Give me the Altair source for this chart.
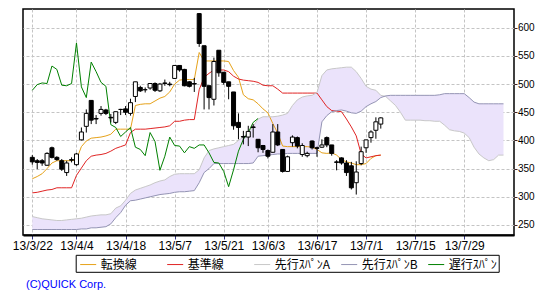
import altair as alt
import pandas as pd

# ---- data ----
tick_idx = [0, 9, 19, 29, 39, 48, 58, 68, 78, 88]
tick_labels = ["13/3/22", "13/4/4", "13/4/18", "13/5/7", "13/5/21",
               "13/6/3", "13/6/17", "13/7/1", "13/7/15", "13/7/29"]
y_ticks = [250, 300, 350, 400, 450, 500, 550, 600]

opens = [370, 364, 364, 356, 387, 370, 364, 343, 366, 357,
         401, 425, 471, 439, 448, 454, 441, 432, 455, 456,
         448, 478, 494, 490, 493, 501, 488, 502, 500, 510,
         533, 526, 504, 501, 625, 568, 497, 473, 560, 521,
         504, 486, 432, 407, 406, 424, 402, 391, 382, 379,
         415, 384, 345, 396, 405, 375, 373, 399, 387, 388,
         405, 392, 362, 369, 360, 355, 325, 359, 387, 405,
         418, 429]
highs = [374, 367, 367, 379, 389, 372, 367, 364, 370, 378,
         423, 455, 471, 445, 461, 456, 447, 451, 456, 461,
         474, 504, 497, 494, 501, 503, 502, 508, 504, 533,
         533, 527, 505, 511, 626, 568, 498, 547, 560, 521,
         504, 486, 448, 417, 426, 429, 402, 392, 384, 429,
         429, 384, 373, 409, 407, 395, 380, 400, 389, 402,
         407, 392, 365, 370, 365, 362, 363, 389, 401, 418,
         441, 441]
lows = [357, 349, 355, 355, 368, 364, 346, 337, 361, 355,
        400, 414, 429, 429, 444, 445, 432, 429, 445, 445,
        444, 468, 486, 485, 490, 486, 486, 497, 496, 509,
        522, 496, 494, 486, 566, 455, 455, 462, 513, 499,
        473, 419, 402, 393, 390, 405, 379, 378, 368, 378,
        390, 343, 344, 389, 386, 371, 370, 384, 371, 387,
        388, 373, 347, 357, 337, 313, 304, 356, 378, 396,
        403, 421]
closes = [362, 361, 360, 377, 370, 366, 349, 360, 365, 376,
          415, 448, 436, 438, 455, 448, 440, 451, 455, 450,
          467, 504, 488, 490, 501, 489, 500, 501, 499, 533,
          525, 497, 496, 500, 572, 496, 476, 540, 520, 503,
          496, 426, 423, 406, 416, 423, 387, 384, 372, 415,
          392, 345, 371, 406, 390, 391, 377, 387, 386, 392,
          392, 377, 361, 360, 343, 316, 344, 380, 401, 415,
          433, 440]

tenkan = [332, 336, 341, 350, 360, 364, 364, 364, 364, 366,
          389, 399, 404, 405, 406, 408, 411, 420, 420, 420,
          420, 462, 464, 465, 465, 470, 475, 478, 486, 500,
          507, 508, 508, 508, 556, 541, 541, 541, 541, 541,
          540, 524, 512, 481, 474, 472, 465, 456, 449, 430,
          413, 390, 389, 389, 389, 389, 389, 388, 384, 378,
          377, 378, 374, 366, 362, 360, 357, 357, 359, 368,
          373, 374]
kijun = [307, 308, 310, 312, 313, 316, 316, 316, 316, 338,
         351, 364, 372, 374, 375, 377, 381, 386, 389, 392,
         414, 420, 420, 420, 421, 422, 423, 424, 426, 434,
         434, 436, 437, 437, 490, 512, 519, 525, 525, 525,
         522, 514, 509, 507, 506, 505, 503, 498, 497, 497,
         491, 484, 484, 484, 484, 484, 484, 484, 484, 472,
         460, 453, 452, 451, 438, 424, 408, 376, 369, 371,
         373, 374]
span_a = [265, 263, 261, 260, 259, 258, 258, 259, 260, 261,
          262, 264, 266, 267, 268, 268, 270, 280, 284, 294,
          306, 312, 315, 318, 321, 325, 328, 330, 336, 340,
          341, 341, 341, 341, 348, 369, 382, 385, 387, 389,
          391, 393, 400, 406, 414, 425, 438, 442, 442, 442,
          443, 445, 448, 462, 472, 477, 479, 480, 485, 515,
          525, 527, 528, 529, 530, 530, 522, 510, 496, 491,
          489, 480, 478, 470, 462, 450, 436, 436, 436, 436,
          435, 435, 434, 434, 427, 419, 417, 416, 413, 405,
          388, 376, 369, 364, 366, 374, 374]
span_b = [242, 242, 242, 242, 242, 242, 242, 242, 242, 242,
          243, 243, 245, 245, 246, 247, 252, 263, 272, 285,
          293, 294, 296, 298, 300, 302, 304, 305, 306, 308,
          309, 309, 310, 311, 325, 343, 350, 359, 359, 359,
          359, 359, 359, 359, 359, 360, 372, 373, 374, 375,
          376, 376, 377, 377, 377, 377, 377, 377, 377, 433,
          444, 451, 453, 454, 452, 449, 448, 452, 460, 465,
          469, 476, 479, 480, 480, 480, 480, 480, 480, 480,
          480, 480, 480, 481, 483, 483, 483, 483, 483, 476,
          468, 465, 465, 465, 465, 465, 465]
chikou = [489, 499, 502, 501, 532, 526, 498, 497, 501, 573,
          495, 476, 539, 522, 503, 496, 428, 423, 407, 415,
          423, 388, 384, 373, 414, 398, 347, 372, 406, 391,
          390, 378, 389, 386, 392, 392, 378, 361, 360, 345,
          318, 348, 381, 402, 414, 432, 439]

series_names = ["転換線", "基準線", "先行ｽﾊﾟﾝA", "先行ｽﾊﾟﾝB", "遅行ｽﾊﾟﾝ"]
series_colors = ["#e6a21a", "#e02424", "#c8c8c8", "#9494b4", "#008000"]
cloud_color = "#ebe3fb"
copyright_text = ["(C)QUICK Corp."]

# ---- tables ----
candles = pd.DataFrame({"i": list(range(len(opens))), "o": opens, "h": highs,
                        "l": lows, "c": closes})
cloud = pd.DataFrame({"i": list(range(len(span_a))), "a": span_a, "b": span_b})
rows = []
for name, vals in zip(series_names, [tenkan, kijun, span_a, span_b, chikou]):
    for k, v in enumerate(vals):
        rows.append({"i": k, "v": v, "s": name})
lines = pd.DataFrame(rows)

# ---- scales / axes ----
xscale = alt.Scale(domain=[-0.878, 97.12], nice=False, zero=False)
yscale = alt.Scale(domain=[232.25, 633.17], nice=False, zero=False)

label_expr = ("[" + ",".join("'%s'" % t for t in tick_labels) + "][indexof(["
              + ",".join(str(v) for v in tick_idx) + "], datum.value)]")

xaxis = alt.Axis(values=tick_idx, labelExpr=label_expr, title=None, grid=True,
                 gridColor="#c4c4c4", gridDash=[3, 2], gridWidth=1,
                 tickColor="#333380", tickSize=4, tickWidth=1,
                 labelFont="Liberation Sans", labelFontSize=12, labelColor="black",
                 labelPadding=1.5, labelAngle=0, labelOverlap=False, labelFlush=False,
                 domain=True, domainColor="black", domainWidth=2)
yaxis = alt.Axis(orient="right", values=y_ticks, title=None, grid=True,
                 gridColor="#c4c4c4", gridDash=[3, 2], gridWidth=1,
                 tickColor="#402020", tickSize=3, tickWidth=1,
                 labelFont="Liberation Sans", labelFontSize=10, labelColor="black",
                 labelPadding=0.5, labelOverlap=False, labelFlush=False, domain=False)

X = alt.X("i:Q", scale=xscale, axis=xaxis)

area = alt.Chart(cloud).mark_area(color=cloud_color, opacity=1, orient="vertical").encode(
    x=X, y=alt.Y("a:Q", scale=yscale, axis=yaxis), y2="b:Q")

legend = alt.Legend(title=None, orient="none", legendX=52.7, legendY=245.8,
                    direction="horizontal", columns=5, gridAlign="all",
                    symbolType="stroke", symbolSize=256, symbolStrokeWidth=1,
                    labelFont="Noto Sans CJK JP", labelFontSize=12, labelColor="black",
                    labelOffset=4, columnPadding=7, padding=1, symbolOffset=3,
                    strokeColor="black", fillColor="white")

line_layer = alt.Chart(lines).mark_line(strokeWidth=1).encode(
    x=X, y=alt.Y("v:Q", scale=yscale, axis=yaxis),
    color=alt.Color("s:N", scale=alt.Scale(domain=series_names, range=series_colors),
                    legend=legend, sort=series_names))

wicks = alt.Chart(candles).mark_rule(color="black", strokeWidth=1).encode(
    x=X, y=alt.Y("l:Q", scale=yscale, axis=yaxis), y2="h:Q")

bodies = alt.Chart(candles).mark_bar(size=4, stroke="black", strokeWidth=1,
                                     orient="vertical").encode(
    x=X, y=alt.Y("o:Q", scale=yscale, axis=yaxis), y2="c:Q",
    fill=alt.condition("datum.c >= datum.o", alt.value("white"), alt.value("black")))

credit = alt.Chart(pd.DataFrame({"t": copyright_text})).mark_text(
    align="left", baseline="middle", font="Liberation Sans", fontSize=11,
    color="#0000ff").encode(x=alt.value(3), y=alt.value(275.5), text="t:N")

chart = alt.layer(area, line_layer, wicks, bodies, credit).properties(
    width=491, height=226,
    autosize=alt.AutoSizeParams(type="none"),
    padding={"left": 23, "top": 9, "right": 36, "bottom": 65},
    background="white",
).configure_view(stroke="black", strokeWidth=1.5)

chart.save("out.html", embed_options={"renderer": "svg", "actions": False})
